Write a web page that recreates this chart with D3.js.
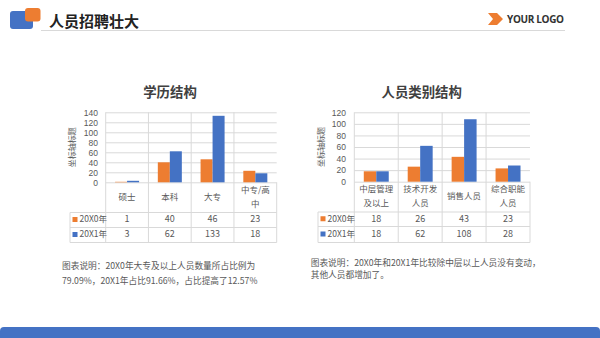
<!DOCTYPE html>
<html>
<head>
<meta charset="utf-8">
<script src="https://cdn.jsdelivr.net/npm/d3@7"></script>
<style>
  html, body { margin: 0; padding: 0; background: #fff; }
  svg { display: block; font-family: "Noto Sans CJK SC", "Noto Sans", sans-serif; }
</style>
</head>
<body>
<div id="chart"></div>
<script>
var years = ['20X0年', '20X1年'];
var eduCats = ['硕士', '本科', '大专', '中专/高中'];
var edu0 = [1, 40, 46, 23];
var edu1 = [3, 62, 133, 18];
var eduTicks = [0, 20, 40, 60, 80, 100, 120, 140];
var staffCats = ['中层管理及以上', '技术开发人员', '销售人员', '综合职能人员'];
var staff0 = [18, 26, 43, 23];
var staff1 = [18, 62, 108, 28];
var staffTicks = [0, 20, 40, 60, 80, 100, 120];
var colors = ['#ED7D31', '#4472C4'];

var W = 600, H = 338;
var svg = d3.select('#chart').append('svg').attr('width', W).attr('height', H);

// header
svg.append('rect').attr('x', 10).attr('y', 11).attr('width', 23).attr('height', 18)
  .attr('rx', 3).attr('fill', '#4472C4');
svg.append('rect').attr('x', 25).attr('y', 8).attr('width', 15.5).attr('height', 13.5)
  .attr('rx', 3).attr('fill', '#ED7D31');
svg.append('text').attr('x', 49).attr('y', 26.5).attr('font-size', 15).attr('font-weight', 'bold')
  .attr('fill', '#222').text('人员招聘壮大');
svg.append('line').attr('x1', 41).attr('x2', 565).attr('y1', 30.5).attr('y2', 30.5)
  .attr('stroke', '#d9d9d9').attr('stroke-width', 1);
svg.append('polygon').attr('points', '488,13 497,13 503,19 497,25 488,25 493,19').attr('fill', '#ED7D31');
svg.append('text').attr('x', 507).attr('y', 22.7).attr('font-size', 10).attr('font-weight', 'bold')
  .attr('font-family', 'Open Sans, sans-serif').attr('fill', '#333').attr('textLength', 57).text('YOUR LOGO');

// bottom bar
svg.append('path').attr('d', 'M0,338 L0,331 Q0,327 4,327 L596,327 Q600,327 600,331 L600,338 Z')
  .attr('fill', '#4472C4');

function wrap(s) {
  return s.length > 4 ? [s.slice(0, 4), s.slice(4)] : [s];
}

function drawChart(c) {
  var g = svg.append('g');
  var y = d3.scaleLinear().domain([0, d3.max(c.ticks)]).range([c.bottom, c.top]);
  var x0 = d3.scaleBand().domain(c.cats).range([c.left, c.right]);
  var x1 = d3.scaleBand().domain([0, 1]).range([0, x0.bandwidth()]).paddingOuter(c.pad);

  g.append('text').attr('x', c.titleX).attr('y', c.titleY).attr('text-anchor', 'middle')
    .attr('font-size', 13.4).attr('font-weight', 'bold').attr('fill', '#404040').text(c.title);

  // gridlines + tick labels
  var axis = g.append('g').attr('transform', 'translate(' + c.left + ',0)')
    .call(d3.axisLeft(y).tickValues(c.ticks).tickSize(-(c.right - c.left)).tickPadding(c.left - c.tickRight));
  axis.select('.domain').remove();
  axis.selectAll('line').attr('stroke', '#d9d9d9');
  axis.selectAll('text').attr('font-size', 8.5).attr('fill', '#595959')
    .attr('font-family', 'Liberation Sans, sans-serif');

  g.append('text').attr('transform', 'translate(' + c.axisTitleX + ',' + ((c.top + c.bottom) / 2) + ') rotate(-90)')
    .attr('text-anchor', 'middle').attr('dominant-baseline', 'middle')
    .attr('font-size', 8).attr('fill', '#595959').text('坐标轴标题');

  // bars
  [c.s0, c.s1].forEach(function (vals, si) {
    g.selectAll('.b' + si).data(vals).enter().append('rect')
      .attr('x', function (d, i) { return x0(c.cats[i]) + x1(si); })
      .attr('y', function (d) { return y(d); })
      .attr('width', x1.bandwidth())
      .attr('height', function (d) { return c.bottom - y(d); })
      .attr('fill', colors[si]);
  });

  // data table
  var rows = c.rows;
  var line = function (a, b, cc, d) {
    g.append('line').attr('x1', a).attr('y1', b).attr('x2', cc).attr('y2', d)
      .attr('stroke', '#d9d9d9').attr('stroke-width', 1);
  };
  line(c.legendX, rows[1], c.right, rows[1]);
  line(c.legendX, rows[2], c.right, rows[2]);
  line(c.legendX, rows[3], c.right, rows[3]);
  line(c.legendX, rows[1], c.legendX, rows[3]);
  x0.domain().forEach(function (k) { line(x0(k), c.top, x0(k), rows[3]); });
  line(c.right, rows[0], c.right, rows[3]);

  c.cats.forEach(function (k) {
    var parts = wrap(k);
    var cx = x0(k) + x0.bandwidth() / 2;
    var mid = (rows[0] + rows[1]) / 2;
    parts.forEach(function (p, pi) {
      g.append('text').attr('x', cx).attr('y', mid + (pi - (parts.length - 1) / 2) * 14)
        .attr('text-anchor', 'middle').attr('dominant-baseline', 'middle')
        .attr('font-size', 8.5).attr('fill', '#595959').text(p);
    });
  });

  [c.s0, c.s1].forEach(function (vals, si) {
    var mid = (rows[si + 1] + rows[si + 2]) / 2;
    g.append('rect').attr('x', c.legendX + 2.5).attr('y', mid - 3).attr('width', 5).attr('height', 5)
      .attr('fill', colors[si]);
    g.append('text').attr('x', c.legendX + 9.5).attr('y', mid).attr('dominant-baseline', 'middle')
      .attr('font-size', 8.5).attr('fill', '#595959').text(years[si]);
    vals.forEach(function (v, i) {
      g.append('text').attr('x', x0(c.cats[i]) + x0.bandwidth() / 2).attr('y', mid)
        .attr('text-anchor', 'middle').attr('dominant-baseline', 'middle')
        .attr('font-size', 9).attr('fill', '#595959').text(v);
    });
  });

  c.note.forEach(function (t, i) {
    g.append('text').attr('x', c.noteX).attr('y', c.noteY + i * c.noteGap).attr('dominant-baseline', 'middle')
      .attr('font-size', 8.7).attr('fill', '#595959').text(t);
  });
}

drawChart({
  title: '学历结构', cats: eduCats, s0: edu0, s1: edu1, ticks: eduTicks,
  left: 105.7, right: 276.7, top: 112.3, bottom: 182.3, pad: 0.78,
  legendX: 70, tickRight: 98, axisTitleX: 73, titleX: 170, titleY: 97,
  rows: [182.3, 212.5, 227.5, 242.5],
  note: ['图表说明：20X0年大专及以上人员数量所占比例为', '79.09%，20X1年占比91.66%，占比提高了12.57%'],
  noteX: 62, noteY: 266.5, noteGap: 15.5
});

drawChart({
  title: '人员类别结构', cats: staffCats, s0: staff0, s1: staff1, ticks: staffTicks,
  left: 354.3, right: 530, top: 112.3, bottom: 181.7, pad: 0.76,
  legendX: 318, tickRight: 346, axisTitleX: 321.7, titleX: 421.7, titleY: 97,
  rows: [181.7, 212, 226.5, 242.5],
  note: ['图表说明：20X0年和20X1年比较除中层以上人员没有变动，', '其他人员都增加了。'],
  noteX: 310.7, noteY: 264, noteGap: 12
});
</script>
</body>
</html>
